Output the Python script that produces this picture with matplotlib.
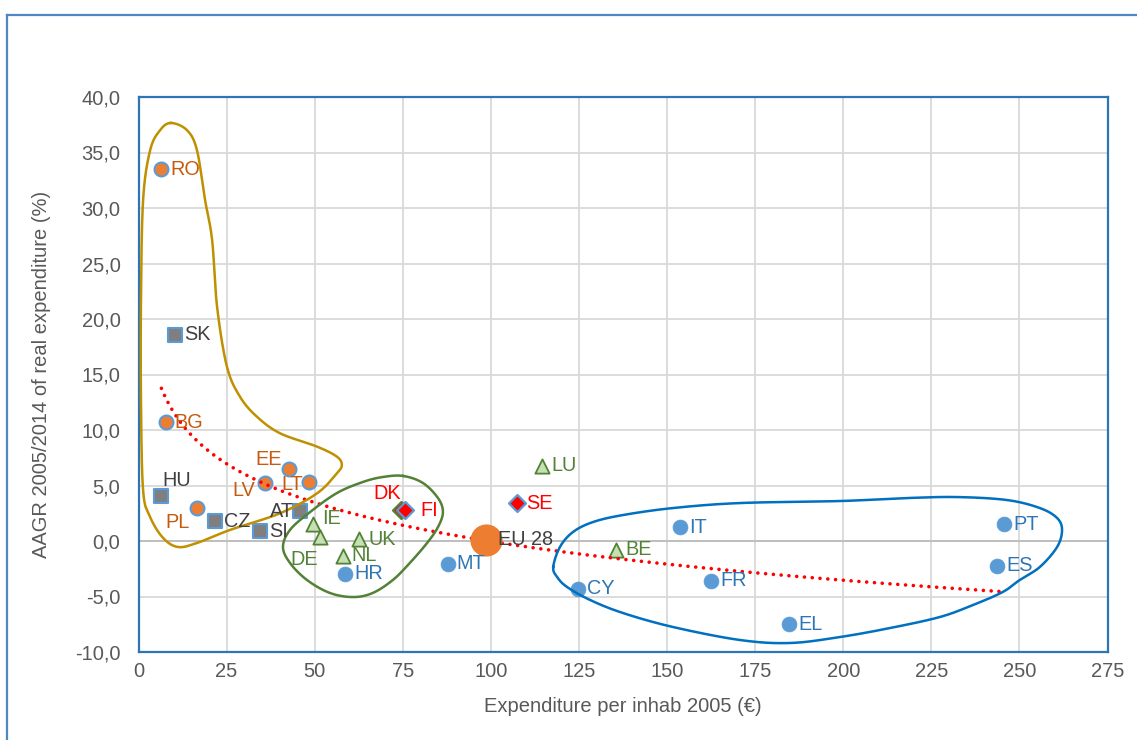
import numpy as np
import matplotlib
matplotlib.use("Agg")
import matplotlib.pyplot as plt
from matplotlib.lines import Line2D

plt.rcParams['font.family'] = ['Liberation Sans', 'DejaVu Sans']

# ---------------- data ----------------
countries = ["RO", "SK", "BG", "HU", "PL", "CZ", "SI", "AT", "LV", "EE", "LT",
             "IE", "DE", "UK", "NL", "HR", "DK", "FI", "MT", "SE", "LU", "BE",
             "CY", "IT", "FR", "EL", "PT", "ES"]
expenditure = [6.5, 10.5, 7.7, 6.5, 16.7, 21.6, 34.6, 45.7, 35.8, 42.6, 48.5,
               49.4, 51.4, 62.7, 57.9, 58.7, 74.5, 75.6, 87.7, 107.5, 114.6, 135.6,
               124.6, 153.8, 162.6, 184.7, 245.7, 243.7]
aagr = [33.5, 18.56, 10.7, 4.05, 3.0, 1.8, 0.9, 2.7, 5.2, 6.5, 5.3,
        1.5, 0.36, 0.18, -1.35, -2.97, 2.75, 2.75, -2.07, 3.4, 6.8, -0.8,
        -4.3, 1.26, -3.6, -7.5, 1.53, -2.25]
group = ["orange", "grey", "orange", "grey", "orange", "grey", "grey", "grey", "orange", "orange", "orange",
         "green", "green", "green", "green", "blue", "red", "red", "blue", "red", "green", "green",
         "blue", "blue", "blue", "blue", "blue", "blue"]
eu_label = "EU 28"
eu_x = 98.7
eu_y = 0.1

# hand-drawn group outlines (data coordinates)
gold_outline = [(9.2, 37.66), (13.8, 37.0), (16.6, 35.2), (18.9, 30.7), (20.9, 27.1), (22.3, 21.1),
                (25.1, 15.7), (28.8, 13.0), (33.6, 11.2), (40.2, 9.7), (50.7, 8.5), (56.3, 7.6),
                (57.7, 6.85), (56.3, 6.1), (50.7, 4.3), (40.2, 2.5), (26.0, 1.0), (16.6, -0.18),
                (11.2, -0.54), (7.0, 0.27), (3.3, 2.16), (1.3, 4.6), (0.7, 12.7), (0.7, 21.7),
                (1.3, 30.7), (3.3, 35.2), (6.1, 37.0)]
green_outline = [(75.1, 5.86), (80.7, 5.23), (85.0, 3.87), (86.4, 2.61), (85.0, 1.26), (81.9, -0.18),
                 (77.0, -1.98), (72.2, -3.51), (66.5, -4.68), (60.9, -5.05), (54.3, -4.68),
                 (47.8, -3.51), (43.0, -1.98), (41.0, -0.54), (43.0, 1.0), (48.7, 2.61),
                 (56.3, 4.32), (63.7, 5.32), (69.4, 5.77)]
blue_outline = [(117.7, -2.34), (119.6, -0.54), (123.3, 0.81), (129.0, 1.71), (137.5, 2.34),
                (151.7, 2.97), (170.7, 3.42), (199.1, 3.60), (218.1, 3.87), (232.3, 3.96),
                (246.5, 3.69), (255.8, 2.97), (260.7, 2.07), (262.1, 0.99), (260.7, -0.54),
                (255.8, -2.34), (250.1, -3.51), (245.3, -4.59), (236.8, -5.77), (227.4, -6.85),
                (213.3, -7.84), (199.1, -8.65), (184.9, -9.19), (170.7, -8.92), (151.7, -7.75),
                (137.5, -6.49), (128.2, -5.32), (121.6, -4.14), (118.8, -3.24)]

x_ticks = list(range(0, 276, 25))
y_ticks = list(range(-10, 41, 5))
x_title = "Expenditure per inhab 2005 (€)"
y_title = "AAGR 2005/2014 of real expenditure (%)"

# ---------------- styles ----------------
marker_style = {
    "orange": dict(marker="o", s=100, c="#ED7D31", edgecolors="#5B9BD5", linewidths=1.5),
    "grey": dict(marker="s", s=100, c="#7F7F7F", edgecolors="#5B9BD5", linewidths=1.5),
    "green": dict(marker="^", s=105, c="#C5E0B4", edgecolors="#548235", linewidths=1.3),
    "blue": dict(marker="o", s=115, c="#5B9BD5", edgecolors="#5B9BD5", linewidths=0.5),
}
label_color = {"orange": "#C55A11", "grey": "#404040", "green": "#548235",
               "red": "#FF0000", "blue": "#2E75B6"}
# (dx pt, dy pt, ha)
label_offset = {
    "HU": (0.7, 11.5, "left"), "PL": (-23, -11, "left"), "LV": (-6.5, -5, "right"),
    "EE": (-5, 6.5, "right"), "LT": (-4.3, -2, "right"), "AT": (-4.3, 0, "right"),
    "DE": (-21, -16.5, "left"), "IE": (7, 4.3, "left"), "DK": (0, 12, "right"),
    "FI": (11, 0, "left"),
}
default_offset = (6.5, 0, "left")
FS_TICK = 14.5
FS_LABEL = 14.3

fig = plt.figure(figsize=(11.37, 7.40), dpi=100)
ax = fig.add_axes([138.5 / 1137, 1 - 652 / 740, (1107.5 - 138.5) / 1137, (652 - 97) / 740])

# outer frame
fig.add_artist(Line2D([7 / 1137, 7 / 1137], [0, 1 - 15 / 740], transform=fig.transFigure,
                      color="#4F86C6", lw=1.6))
fig.add_artist(Line2D([7 / 1137, 1], [1 - 15 / 740, 1 - 15 / 740], transform=fig.transFigure,
                      color="#4F86C6", lw=1.6))

ax.set_xlim(0, 275)
ax.set_ylim(-10, 40)
ax.set_xticks(x_ticks)
ax.set_yticks(y_ticks)
ax.set_yticklabels([f"{v:.1f}".replace(".", ",") for v in y_ticks])
ax.set_xticklabels([str(v) for v in x_ticks])
ax.tick_params(length=0, labelsize=FS_TICK, colors="#595959")
ax.tick_params(axis="y", pad=13)
ax.tick_params(axis="x", pad=7)
ax.grid(True, color="#D9D9D9", lw=1.3)
ax.set_axisbelow(True)
for sp in ax.spines.values():
    sp.set_color("#2E75B6")
    sp.set_linewidth(1.6)
ax.axhline(0, color="#BFBFBF", lw=1.4, zorder=1)

ax.set_xlabel(x_title, fontsize=FS_TICK, color="#595959", labelpad=12)
ax.set_ylabel(y_title, fontsize=FS_TICK, color="#595959", labelpad=17)

# markers
xs = np.array(expenditure)
ys = np.array(aagr)
for g in ["orange", "grey", "green", "blue"]:
    idx = [i for i, gg in enumerate(group) if gg == g]
    ax.scatter(xs[idx], ys[idx], zorder=3, **marker_style[g])
for i, gg in enumerate(group):
    if gg == "red":
        ec = "#548235" if countries[i] == "DK" else "#5B9BD5"
        ax.scatter([xs[i]], [ys[i]], marker="D", s=75, c="#FF0000", edgecolors=ec,
                   linewidths=1.6, zorder=3)

# logarithmic trend line (least squares on ln x)
b, a = np.polyfit(np.log(xs), ys, 1)
xt = np.linspace(xs.min(), xs.max(), 300)
ax.plot(xt, a + b * np.log(xt), color="#FF0000", lw=2.6, linestyle=(0, (0.01, 2.15)),
        dash_capstyle="round", zorder=4)

# EU 28
ax.scatter([eu_x], [eu_y], marker="o", s=490, c="#ED7D31", edgecolors="#ED7D31", zorder=5)
ax.annotate(eu_label, (eu_x, eu_y), xytext=(8.5, 0), textcoords="offset points",
            ha="left", va="center", fontsize=FS_LABEL, color="#404040", zorder=7)

# labels
for i, name in enumerate(countries):
    dx, dy, ha = label_offset.get(name, default_offset)
    ax.annotate(name, (xs[i], ys[i]), xytext=(dx, dy), textcoords="offset points",
                ha=ha, va="center", fontsize=FS_LABEL, color=label_color[group[i]], zorder=7)


def closed_curve(pts, n=40):
    p = np.array(pts, dtype=float)
    m = len(p)
    out = []
    for i in range(m):
        p0, p1, p2, p3 = p[(i - 1) % m], p[i], p[(i + 1) % m], p[(i + 2) % m]
        t = np.linspace(0, 1, n, endpoint=False)[:, None]
        seg = 0.5 * ((2 * p1) + (-p0 + p2) * t + (2 * p0 - 5 * p1 + 4 * p2 - p3) * t ** 2
                     + (-p0 + 3 * p1 - 3 * p2 + p3) * t ** 3)
        out.append(seg)
    out = np.vstack(out + [out[0][:1]])
    return out[:, 0], out[:, 1]


for pts, col in [(gold_outline, "#BF9000"), (green_outline, "#538135"), (blue_outline, "#0070C0")]:
    cx, cy = closed_curve(pts)
    ax.plot(cx, cy, color=col, lw=1.8, zorder=6, clip_on=False)

fig.savefig("out.png", dpi=100)
